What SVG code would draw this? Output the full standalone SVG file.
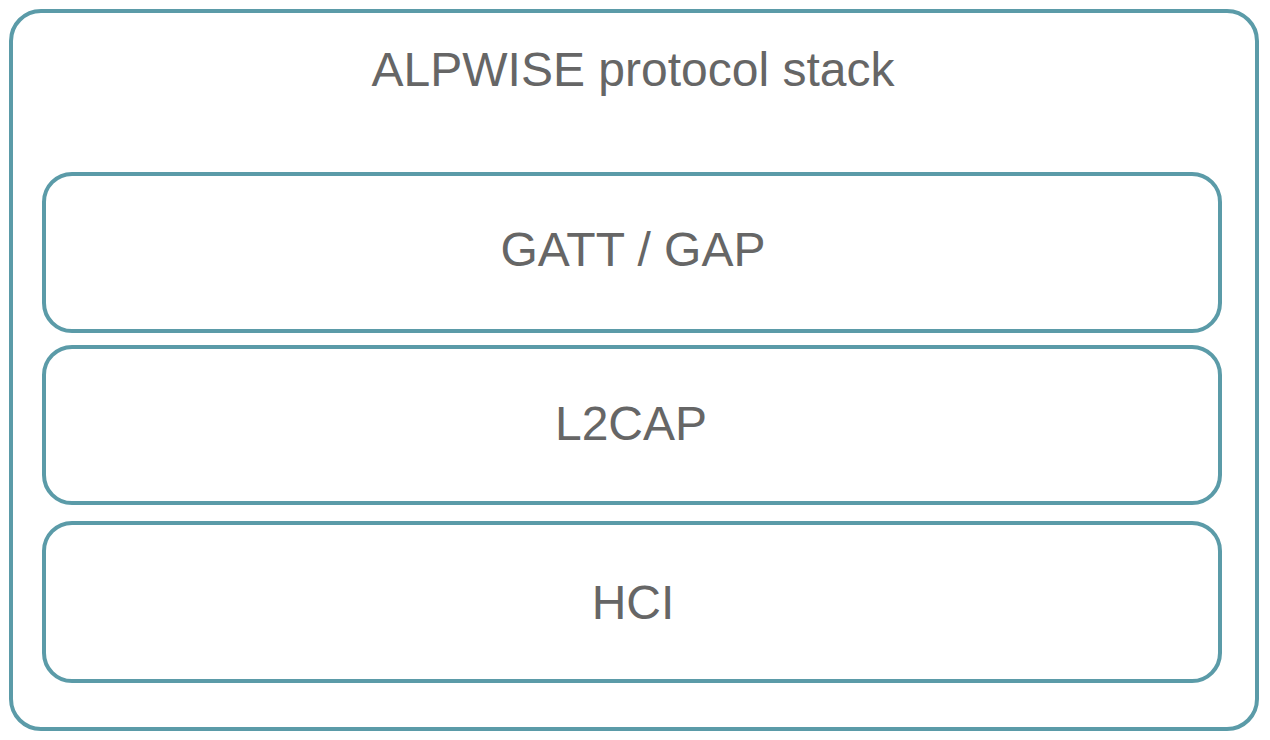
<svg xmlns="http://www.w3.org/2000/svg" width="1270" height="740" viewBox="0 0 1270 740">
<style>
.box{fill:#ffffff;stroke:#5b9ba8;stroke-width:4}
.lbl{font-family:"Liberation Sans",Arial,sans-serif;font-size:48px;fill:#666666;text-anchor:middle}
</style>
<rect width="1270" height="740" fill="#ffffff"/>
<g id="stack">
<rect class="box" x="11" y="11" width="1246" height="718" rx="30" ry="30"/>
<text class="lbl" x="633" y="86">ALPWISE protocol stack</text>
</g>
<g id="gatt">
<rect class="box" x="44" y="174" width="1176" height="157" rx="28" ry="28"/>
<text class="lbl" x="633" y="266">GATT / GAP</text>
</g>
<g id="l2cap">
<rect class="box" x="44" y="347" width="1176" height="156" rx="28" ry="28"/>
<text class="lbl" x="631" y="440">L2CAP</text>
</g>
<g id="hci">
<rect class="box" x="44" y="523" width="1176" height="158" rx="28" ry="28"/>
<text class="lbl" x="633" y="619">HCI</text>
</g>
<g id="connectors"/>
</svg>
